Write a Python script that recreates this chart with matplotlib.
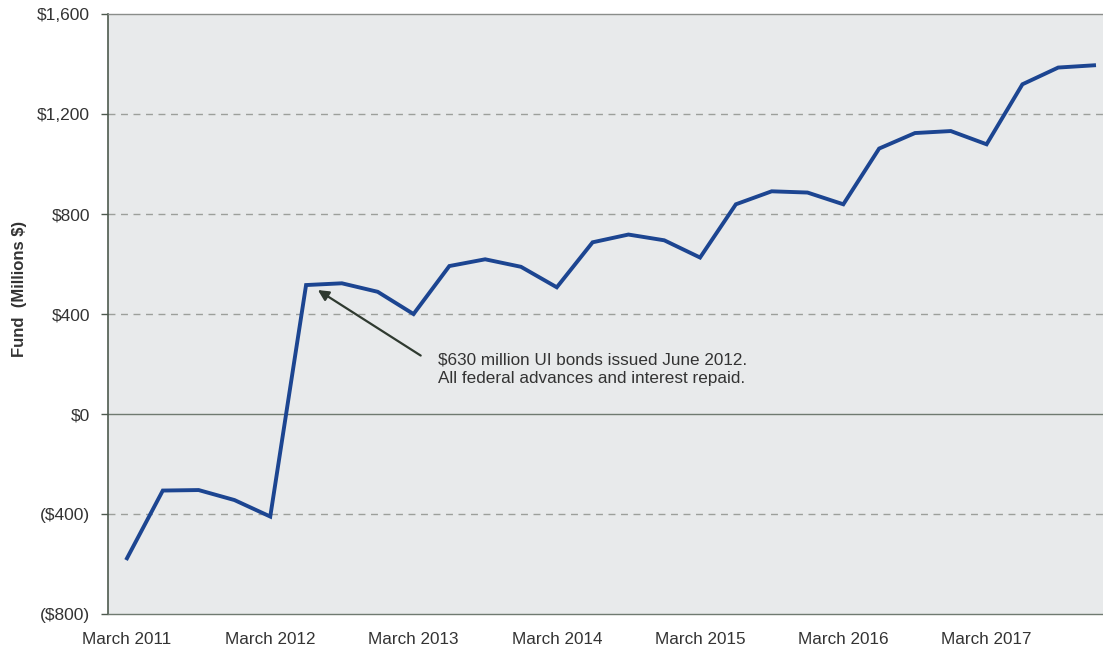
import matplotlib
matplotlib.use("Agg")
import matplotlib.pyplot as plt
from matplotlib.ticker import FixedLocator, FuncFormatter

# Quarterly fund balance, March 2011 through December 2017 (millions of dollars)
quarters = [
    "Mar 2011", "Jun 2011", "Sep 2011", "Dec 2011",
    "Mar 2012", "Jun 2012", "Sep 2012", "Dec 2012",
    "Mar 2013", "Jun 2013", "Sep 2013", "Dec 2013",
    "Mar 2014", "Jun 2014", "Sep 2014", "Dec 2014",
    "Mar 2015", "Jun 2015", "Sep 2015", "Dec 2015",
    "Mar 2016", "Jun 2016", "Sep 2016", "Dec 2016",
    "Mar 2017", "Jun 2017", "Sep 2017", "Dec 2017",
]
fund_balance = [
    -576, -305, -303, -343,
    -409, 517, 524, 490,
    401, 593, 620, 590,
    508, 688, 719, 696,
    627, 840, 892, 887,
    840, 1063, 1125, 1133,
    1080, 1320, 1387, 1396,
]
tick_labels = ["March 2011", "March 2012", "March 2013", "March 2014",
               "March 2015", "March 2016", "March 2017"]
y_ticks = [-800, -400, 0, 400, 800, 1200, 1600]

annotation_text = "$630 million UI bonds issued June 2012.\nAll federal advances and interest repaid."

plt.rcParams["font.family"] = ["Liberation Sans", "DejaVu Sans"]

fig = plt.figure(figsize=(11.03, 6.52), dpi=100)
ax = fig.add_axes([108 / 1103, 1 - 614.3 / 652, 1 - 108 / 1103, (614.3 - 14.3) / 652])
ax.set_facecolor("#e8eaeb")

x = list(range(len(quarters)))
ax.plot(x, fund_balance, color="#1c4591", linewidth=2.8, solid_joinstyle="miter", zorder=3)

ax.set_xlim(-0.53, 27.25)
ax.set_ylim(-800, 1600)

# Gridlines
for v in y_ticks:
    if v == 0:
        ax.axhline(v, color="#6f7a70", linewidth=1.0, zorder=2)
    elif v in (-800, 1600):
        continue
    else:
        ax.axhline(v, color="#9c9f9b", linewidth=1.0, linestyle=(0, (5, 4)), zorder=1)

ax.yaxis.set_major_locator(FixedLocator(y_ticks))


def money(v, pos):
    v = int(round(v))
    if v < 0:
        return "(${:,})".format(-v)
    return "${:,}".format(v)


ax.yaxis.set_major_formatter(FuncFormatter(money))
ax.set_xticks([quarters.index(lbl.replace("March", "Mar")) for lbl in tick_labels])
ax.set_xticklabels(tick_labels)

ax.tick_params(axis="y", length=5, width=1, color="#4e5a4e", labelsize=12.5,
               labelcolor="#333333", pad=8)
ax.tick_params(axis="x", length=0, labelsize=12.3, labelcolor="#333333", pad=12.5)

ax.spines["right"].set_visible(False)
ax.spines["left"].set_color("#4e5a4e")
ax.spines["left"].set_linewidth(1.2)
ax.spines["top"].set_color("#8a8d8a")
ax.spines["top"].set_linewidth(1.0)
ax.spines["bottom"].set_color("#6f7a70")
ax.spines["bottom"].set_linewidth(1.0)

ax.set_ylabel("Fund  (Millions $)", fontsize=12, fontweight="bold", color="#333333")
ax.yaxis.set_label_coords(-0.081, 0.542)

# Callout for the June 2012 bond issue
ax.annotate(
    "",
    xy=(5.33, 497), xytext=(8.2, 235),
    arrowprops=dict(arrowstyle="-|>", color="#2f3a30", lw=1.6, mutation_scale=16,
                    shrinkA=0, shrinkB=0),
    zorder=4,
)
ax.text(8.69, 180, annotation_text, fontsize=12.3, color="#333333",
        va="center", ha="left", linespacing=1.35, zorder=4)

fig.savefig("out.png", dpi=100, facecolor="white")
